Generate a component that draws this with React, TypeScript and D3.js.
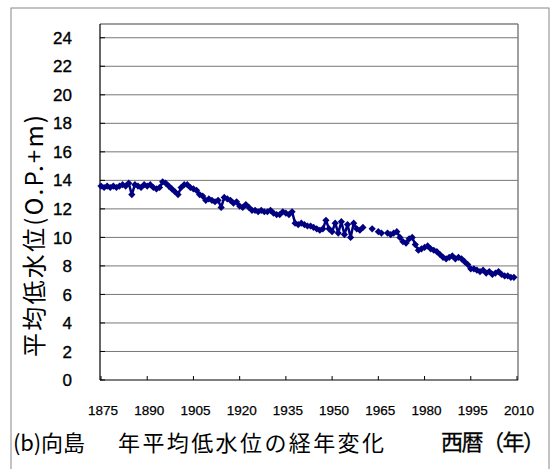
import React from 'react';
import * as d3 from 'd3';

// annual mean low water level at Mukaijima (O.P.+m), null = no record
const years: number[] = d3.range(1875, 2010);
const levels: (number | null)[] = [
  13.6, 13.5, 13.6, 13.5, 13.6, 13.5, 13.6, 13.7, 13.6, 13.8,
  13.0, 13.7, 13.6, 13.5, 13.7, 13.6, 13.7, 13.5, 13.4, 13.5,
  13.9, 13.8, 13.6, 13.4, 13.2, 13.0, 13.5, 13.7, 13.7, 13.5,
  13.4, 13.3, 13.0, 12.9, 12.6, 12.7, 12.6, 12.5, 12.6, 12.1,
  12.8, 12.7, 12.6, 12.4, 12.5, 12.2, 12.1, 12.3, 12.1, 11.9,
  11.9, 11.8, 11.9, 11.8, 11.8, 11.9, 11.7, 11.6, 11.6, 11.8,
  11.7, 11.6, 11.8, 11.0, 10.9, 11.0, 10.9, 10.8, 10.8, 10.7,
  10.6, 10.5, 10.6, 11.2, 10.6, 10.4, 11.0, 10.3, 11.1, 10.2,
  10.9, 10.0, 11.0, 10.6, 10.5, 10.7, null, null, 10.6, null,
  10.4, 10.3, null, 10.3, 10.2, 10.3, 10.4, 10.0, 9.7, 9.6,
  9.9, 10.0, 9.5, 9.1, 9.2, 9.3, 9.4, 9.2, 9.1, 9.0,
  8.8, 8.6, 8.5, 8.6, 8.7, 8.5, 8.6, 8.5, 8.3, 8.1,
  7.8, 7.8, 7.7, 7.6, 7.7, 7.5, 7.6, 7.4, 7.5, 7.6,
  7.4, 7.3, 7.3, 7.2, 7.2,
];
const yTicks: number[] = d3.range(0, 25, 2);
const xTicks: number[] = d3.range(1875, 2011, 15);

const W = 558;
const H = 469;
const plot = { left: 100, right: 518, top: 24, bottom: 380 };
const navy = '#000080';
const font = "'Liberation Sans', Arial, sans-serif";
const jp = "'Noto Sans CJK JP', sans-serif";

export default function App() {
  const x = d3.scaleLinear().domain([1875, 2010]).range([101, 517]);
  const y = d3.scaleLinear().domain([0, 25]).range([plot.bottom, plot.top - 0.5]);

  const data = years.map((yr, i) => ({ yr, v: levels[i] }));
  const line = d3
    .line<{ yr: number; v: number | null }>()
    .defined(d => d.v !== null)
    .x(d => x(d.yr))
    .y(d => y(d.v as number));
  const marker = d3.symbol().type(d3.symbolSquare).size(26)();

  return (
    <svg
      width={W}
      height={H}
      style={{ position: 'absolute', left: 0, top: 0, background: '#fff' }}
    >
      <rect x={11} y={8} width={538} height={470} fill="#fff" stroke="#888" strokeWidth={1} />

      {/* gridlines */}
      {yTicks.filter(t => t > 0).map(t => (
        <line key={t} x1={plot.left} x2={plot.right} y1={y(t)} y2={y(t)} stroke="#777" strokeWidth={1} />
      ))}
      <line x1={plot.left} x2={plot.right} y1={plot.top} y2={plot.top} stroke="#808080" strokeWidth={1.5} />
      <line x1={plot.right} x2={plot.right} y1={plot.top} y2={plot.bottom} stroke="#808080" strokeWidth={1.5} />

      {/* axes */}
      <line x1={plot.left} x2={plot.left} y1={plot.top} y2={plot.bottom} stroke="#000" strokeWidth={1.2} />
      <line x1={plot.left} x2={plot.right} y1={plot.bottom} y2={plot.bottom} stroke="#000" strokeWidth={1.2} />
      {yTicks.map(t => (
        <g key={t}>
          <line x1={plot.left} x2={plot.left + 5} y1={y(t)} y2={y(t)} stroke="#000" />
          <text
            x={72}
            y={y(t)}
            dy="0.36em"
            textAnchor="end"
            fontFamily={font}
            fontSize={17}
            fill="#000"
            stroke="#000"
            strokeWidth={0.35}
          >
            {t}
          </text>
        </g>
      ))}
      {xTicks.map(t => (
        <g key={t}>
          <line x1={x(t)} x2={x(t)} y1={plot.bottom} y2={plot.bottom - 4} stroke="#000" />
          <text
            x={x(t) + 2}
            y={415}
            textAnchor="middle"
            fontFamily={font}
            fontSize={13.5}
            fill="#000"
            stroke="#000"
            strokeWidth={0.25}
          >
            {t}
          </text>
        </g>
      ))}

      {/* series */}
      <path d={line(data) || ''} fill="none" stroke={navy} strokeWidth={2.5} strokeLinejoin="round" />
      {data
        .filter(d => d.v !== null)
        .map(d => (
          <path
            key={d.yr}
            d={marker || ''}
            transform={`translate(${x(d.yr)},${y(d.v as number)}) rotate(45)`}
            fill={navy}
          />
        ))}

      {/* titles */}
      <text
        transform={`translate(43,236) rotate(-90)`}
        textAnchor="middle"
        fontFamily={jp}
        fontSize={24}
        fill="#000"
        textLength={242}
        lengthAdjust="spacing"
      >
        平均低水位(O.P.+m)
      </text>
      <text x={13} y={451} fontFamily={jp} fontSize={22} fill="#000" textLength={72} lengthAdjust="spacing">
        (b)向島
      </text>
      <text x={118} y={451} fontFamily={jp} fontSize={22} fill="#000" textLength={266} lengthAdjust="spacing">
        年平均低水位の経年変化
      </text>
      <text
        x={441}
        y={450}
        fontFamily={jp}
        fontSize={22}
        fill="#000"
        stroke="#000"
        strokeWidth={0.3}
        textLength={104}
        lengthAdjust="spacing"
      >
        西暦（年）
      </text>
    </svg>
  );
}
